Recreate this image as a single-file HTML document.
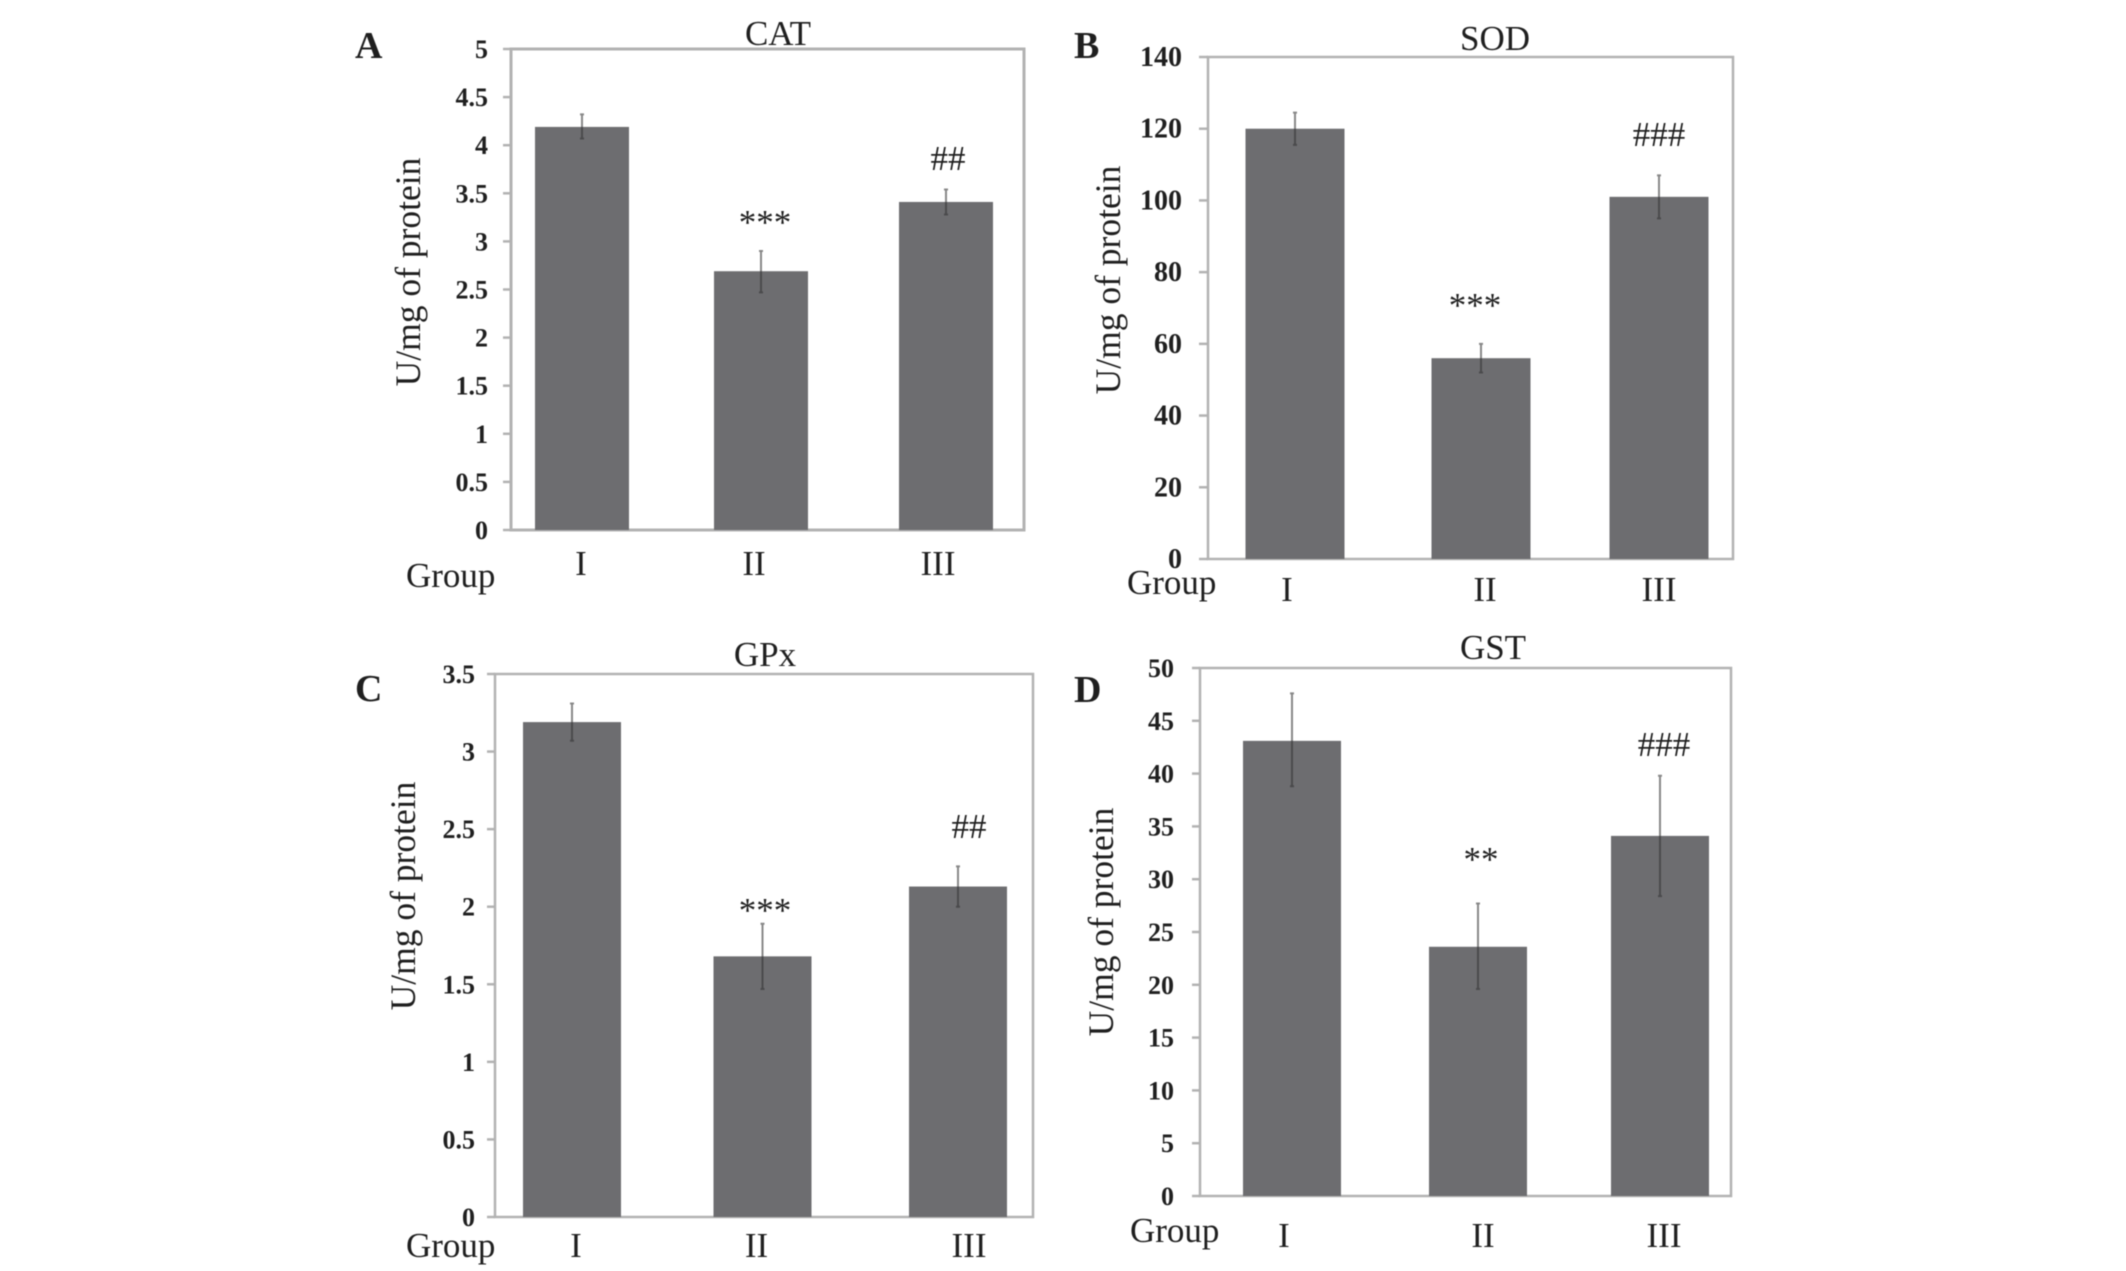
<!DOCTYPE html>
<html lang="en">
<head>
<meta charset="utf-8">
<title>Antioxidant enzyme activity by group</title>
<style>
  html, body { margin: 0; padding: 0; background: #fff; }
  #figure { display: block; width: 2126px; height: 1271px; filter: blur(0.5px); }
  text { font-family: "Liberation Serif", serif; fill: #1f1f1f; }
</style>
</head>
<body>
<svg id="figure" xmlns="http://www.w3.org/2000/svg" width="2126" height="1271" viewBox="0 0 2126 1271"></svg>
<script>
// Chart data
const groupNames = ['I', 'II', 'III'];
const catTicks = ['0', '0.5', '1', '1.5', '2', '2.5', '3', '3.5', '4', '4.5', '5'];
const catValues = [4.19, 2.69, 3.41];
const catErrHigh = [4.32, 2.90, 3.54];
const catErrLow = [4.07, 2.47, 3.28];
const sodTicks = ['0', '20', '40', '60', '80', '100', '120', '140'];
const sodValues = [120, 56, 101];
const sodErrHigh = [124.5, 60, 107];
const sodErrLow = [115.5, 52, 95];
const gpxTicks = ['0', '0.5', '1', '1.5', '2', '2.5', '3', '3.5'];
const gpxValues = [3.19, 1.68, 2.13];
const gpxErrHigh = [3.31, 1.89, 2.26];
const gpxErrLow = [3.07, 1.47, 2.00];
const gstTicks = ['0', '5', '10', '15', '20', '25', '30', '35', '40', '45', '50'];
const gstValues = [43.1, 23.6, 34.1];
const gstErrHigh = [47.6, 27.7, 39.8];
const gstErrLow = [38.8, 19.6, 28.4];
const catSignificance = ['', '***', '##'];
const sodSignificance = ['', '***', '###'];
const gpxSignificance = ['', '***', '##'];
const gstSignificance = ['', '**', '###'];

// Panel geometry
const panels = [
  { id: 'cat', letter: 'A', title: 'CAT', ticks: catTicks, values: catValues, hi: catErrHigh, lo: catErrLow, marks: catSignificance,
    left: 511, right: 1024, top: 49, bottom: 530, first: 582, step: 182, midNudge: -3, barW: 94, tickEnd: 488, tickLen: 8, tickFont: 26,
    lx: 355, ly: 58, tx: 778, ty: 45, yx: 420, yy: 272, gx: 406, gy: 587, xly: 575, xlx: [-1, -7, -8],
    markX: [0, 765, 948], markY: [0, 234, 170], border: 3 },
  { id: 'sod', letter: 'B', title: 'SOD', ticks: sodTicks, values: sodValues, hi: sodErrHigh, lo: sodErrLow, marks: sodSignificance,
    left: 1208, right: 1733, top: 57, bottom: 559, first: 1295, step: 182, midNudge: 4, barW: 99, tickEnd: 1182, tickLen: 9, tickFont: 28,
    lx: 1074, ly: 58, tx: 1495, ty: 50, yx: 1120, yy: 280, gx: 1127, gy: 594, xly: 601, xlx: [-8, 4, 0],
    markX: [0, 1475, 1659], markY: [0, 317, 146], border: 2.5 },
  { id: 'gpx', letter: 'C', title: 'GPx', ticks: gpxTicks, values: gpxValues, hi: gpxErrHigh, lo: gpxErrLow, marks: gpxSignificance,
    left: 495, right: 1033, top: 674, bottom: 1217, first: 572, step: 193, midNudge: -2.5, barW: 98, tickEnd: 475, tickLen: 8, tickFont: 26,
    lx: 355, ly: 701, tx: 765, ty: 666, yx: 415, yy: 896, gx: 406, gy: 1257, xly: 1257, xlx: [4, -6, 11],
    markX: [0, 765, 969], markY: [0, 922, 838], border: 2.5 },
  { id: 'gst', letter: 'D', title: 'GST', ticks: gstTicks, values: gstValues, hi: gstErrHigh, lo: gstErrLow, marks: gstSignificance,
    left: 1200, right: 1731, top: 668, bottom: 1196, first: 1292, step: 184, midNudge: 2, barW: 98, tickEnd: 1174, tickLen: 8, tickFont: 26,
    lx: 1074, ly: 702, tx: 1493, ty: 659, yx: 1113, yy: 922, gx: 1130, gy: 1242, xly: 1247, xlx: [-8, 5, 4],
    markX: [0, 1481, 1664], markY: [0, 871, 756], border: 2.5 }
];

const svgNS = 'http://www.w3.org/2000/svg';
const root = document.getElementById('figure');

function make(parent, tag, props, content) {
  const node = document.createElementNS(svgNS, tag);
  for (const key in props) node.setAttribute(key, props[key]);
  if (content !== undefined) node.textContent = content;
  parent.appendChild(node);
  return node;
}
function yScale(p, v) {
  const maxV = parseFloat(p.ticks[p.ticks.length - 1]);
  return p.bottom - (v / maxV) * (p.bottom - p.top);
}
function xCenter(p, i) {
  return p.first + p.step * i + (i === 1 ? p.midNudge : 0);
}

function drawPanel(p) {
  const g = make(root, 'g', {});
  
  

  let el = make(g, 'text', { x: p.lx, y: p.ly, 'font-size': 38, 'font-weight': 'bold', fill: '#1a1a1a' }, p.letter);
  
  

  el = make(g, 'text', { x: p.tx, y: p.ty, 'font-size': 35, 'text-anchor': 'middle' }, p.title);
  
  

  el = make(g, 'rect', { x: p.left, y: p.top, width: p.right - p.left, height: p.bottom - p.top, fill: '#fff', stroke: '#b2b2b2', 'stroke-width': p.border });
  
  

  p.ticks.forEach(function (label) {
    const y = yScale(p, parseFloat(label));
    let tickEl = make(g, 'line', { x1: p.left - p.tickLen, x2: p.left, y1: y, y2: y, stroke: '#b2b2b2', 'stroke-width': 2.5 });
    
    
    tickEl = make(g, 'text', { x: p.tickEnd, y: y + 9, 'font-size': p.tickFont, 'font-weight': 'bold', 'text-anchor': 'end', fill: '#2a2a2a' }, label);
    
    
  });

  groupNames.forEach(function (name, i) {
    const cx = xCenter(p, i);
    const top = yScale(p, p.values[i]);
    let mark = make(g, 'rect', { x: cx - p.barW / 2, y: top, width: p.barW, height: p.bottom - top, fill: '#6d6d70' });
    
    

    const yHi = yScale(p, p.hi[i]);
    const yLo = yScale(p, p.lo[i]);
    mark = make(g, 'path', { d: 'M' + cx + ' ' + yHi + 'V' + yLo + 'M' + (cx - 2) + ' ' + yHi + 'H' + (cx + 2) + 'M' + (cx - 2) + ' ' + yLo + 'H' + (cx + 2), fill: 'none', stroke: 'rgba(50,50,50,0.58)', 'stroke-width': 2 });
    
    

    mark = make(g, 'text', { x: cx + p.xlx[i], y: p.xly, 'font-size': 35, 'text-anchor': 'middle' }, name);
    
    

    if (p.marks[i]) {
      mark = make(g, 'text', { x: p.markX[i], y: p.markY[i], 'font-size': 35, 'text-anchor': 'middle' }, p.marks[i]);
      
      
    }
  });

  el = make(g, 'text', { x: p.gx, y: p.gy, 'font-size': 35 }, 'Group');
  
  

  el = make(g, 'text', { x: 0, y: 0, 'font-size': 35.5, 'text-anchor': 'middle', transform: 'translate(' + p.yx + ' ' + p.yy + ') rotate(-90)' }, 'U/mg of protein');
  
  
}

panels.forEach(drawPanel);
</script>
</body>
</html>
